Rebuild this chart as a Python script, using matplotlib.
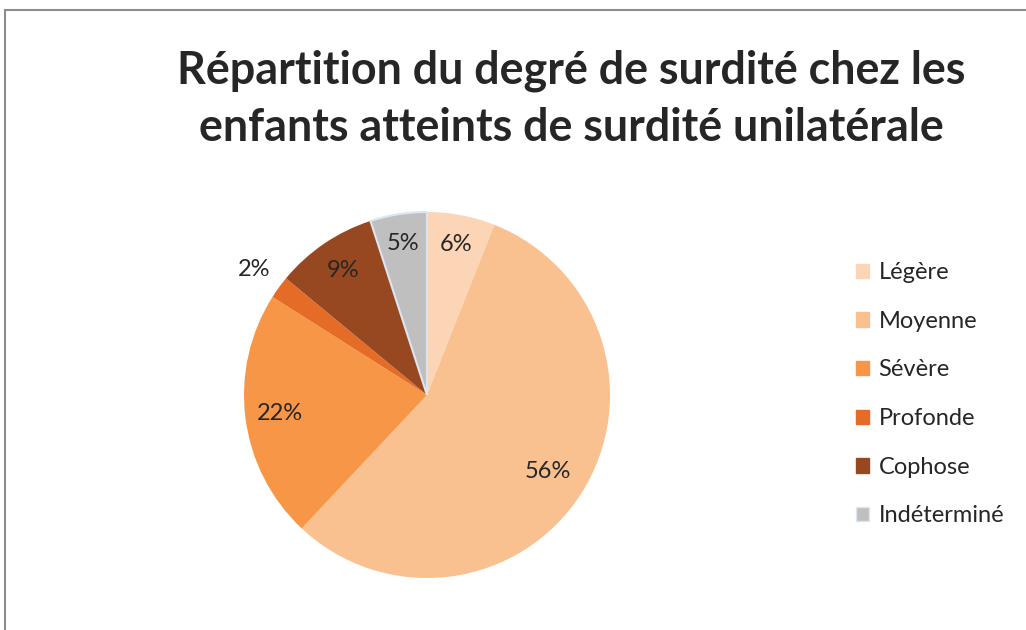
import numpy as np
import matplotlib
matplotlib.use('Agg')
import matplotlib.pyplot as plt
from matplotlib.patches import Rectangle, Patch

plt.rcParams['font.family'] = ['Lato', 'DejaVu Sans']

### === data ===
categories = ['Légère', 'Moyenne', 'Sévère', 'Profonde', 'Cophose', 'Indéterminé']
values = [6, 56, 22, 2, 9, 5]
pct_labels = ['6%', '56%', '22%', '2%', '9%', '5%']
colors = ['#FBD5B5', '#F9C090', '#F79646', '#E46C27', '#974821', '#BFBFBF']
label_dist = [0.84, 0.78, 0.81, 1.17, 0.82, 0.84]

title = 'Répartition du degré de surdité chez les\nenfants atteints de surdité unilatérale'

W, H = 1026, 630
fig = plt.figure(figsize=(W / 100, H / 100), dpi=100)

# outer chart border (left + top visible)
fig.patches.append(Rectangle((5 / W, -0.1), 1.2, (H - 10) / H + 0.1,
                             transform=fig.transFigure, fill=False,
                             edgecolor='#8c8c8c', linewidth=1.5))

cx, cy, r = 427, 395, 183
ax = fig.add_axes([(cx - r) / W, (H - cy - r) / H, 2 * r / W, 2 * r / H])
wedges, _ = ax.pie(values, colors=colors, startangle=90, counterclock=False,
                   radius=1.0, wedgeprops={'linewidth': 0})
wedges[-1].set_edgecolor('#dce6f2')
wedges[-1].set_linewidth(1.5)
ax.set_xlim(-1, 1)
ax.set_ylim(-1, 1)
ax.set_aspect('equal')
ax.axis('off')

for w, lab, d in zip(wedges, pct_labels, label_dist):
    ang = np.deg2rad((w.theta1 + w.theta2) / 2)
    ax.text(d * np.cos(ang), d * np.sin(ang), lab, ha='center', va='center',
            fontsize=17, color='#262626')

fig.text(571 / W, 1 - 99 / H, title, ha='center', va='center',
         fontsize=32.3, fontweight='bold', color='#262626', linespacing=1.45)

handles = [Patch(facecolor=c, edgecolor=('#dce6f2' if i == len(colors) - 1 else c))
           for i, c in enumerate(colors)]
fig.legend(handles, categories, loc='upper left',
           bbox_to_anchor=(835 / W, 1 - 241 / H), frameon=False,
           fontsize=17, handlelength=0.55, handleheight=0.55,
           handletextpad=0.4, labelspacing=1.17, labelcolor='#262626')

fig.savefig('out.png', dpi=100)
